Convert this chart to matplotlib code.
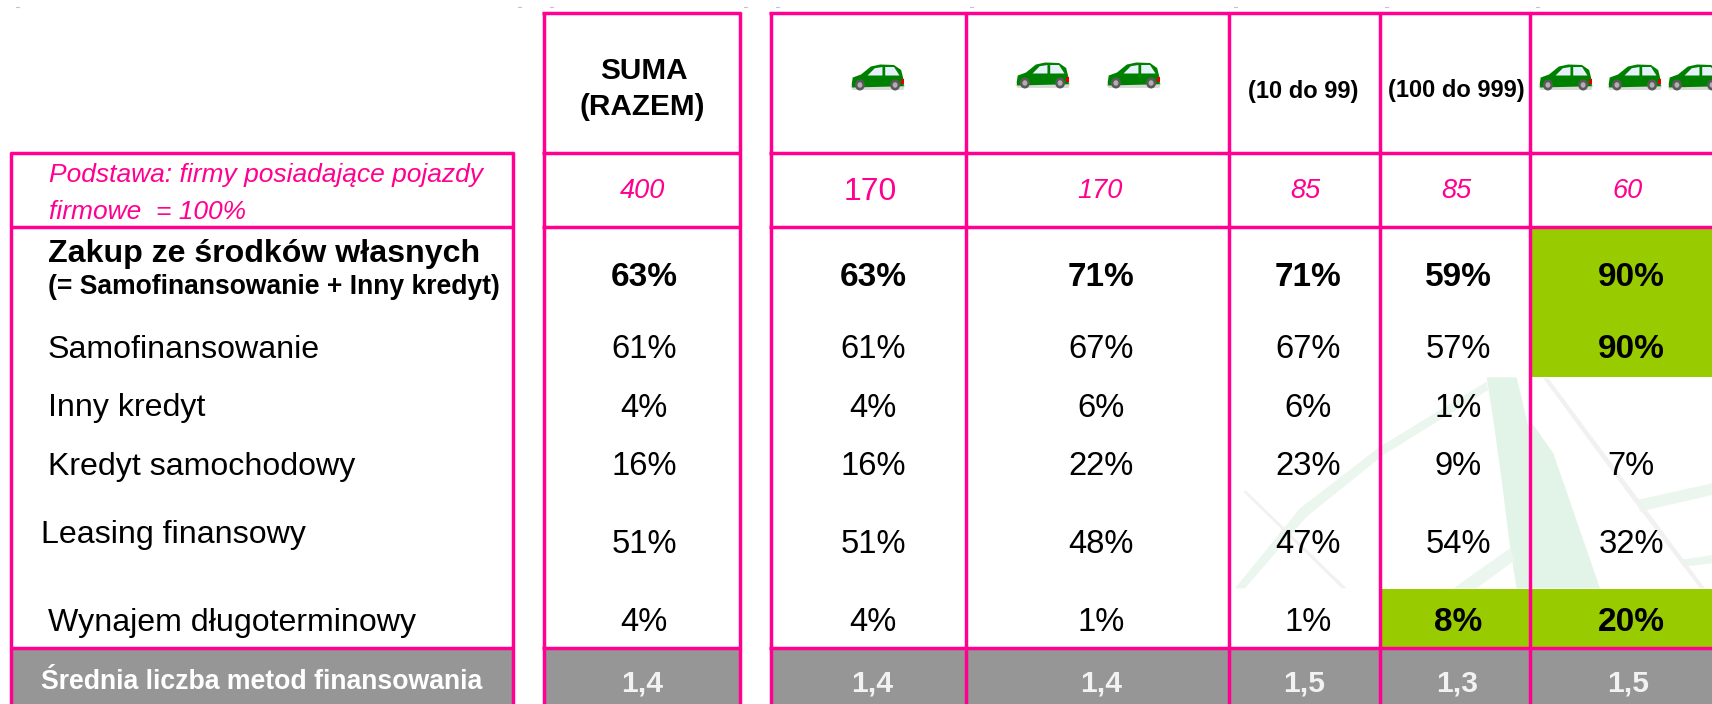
import matplotlib
matplotlib.use("Agg")
import matplotlib.pyplot as plt
from matplotlib.patches import Polygon, Rectangle, Ellipse

plt.rcParams['font.family'] = ['Liberation Sans', 'DejaVu Sans']

# ---------- data ----------
base_label = ["Podstawa: firmy posiadające pojazdy", "firmowe  = 100%"]
row_labels = ["Samofinansowanie", "Inny kredyt", "Kredyt samochodowy",
              "Leasing finansowy", "Wynajem długoterminowy"]
head_bold = "Zakup ze środków własnych"
head_sub = "(= Samofinansowanie + Inny kredyt)"
mean_label = "Średnia liczba metod finansowania"

header_suma = ["SUMA", "(RAZEM)"]
header_ranges = ["(10 do 99)", "(100 do 999)"]
base_n = ["400", "170", "170", "85", "85", "60"]

zakup = ["63%", "63%", "71%", "71%", "59%", "90%"]
samof = ["61%", "61%", "67%", "67%", "57%", "90%"]
inny = ["4%", "4%", "6%", "6%", "1%", ""]
kredyt = ["16%", "16%", "22%", "23%", "9%", "7%"]
leasing = ["51%", "51%", "48%", "47%", "54%", "32%"]
wynajem = ["4%", "4%", "1%", "1%", "8%", "20%"]
srednia = ["1,4", "1,4", "1,4", "1,5", "1,3", "1,5"]
highlighted = {(0, 5), (1, 5), (5, 4), (5, 5)}  # (row, column)

# ---------- layout (pixels) ----------
PINK, GREEN, GREY = "#FF0090", "#99CC00", "#969696"
W, H = 1712, 704
col_x = [644, 873, 1101, 1308, 1458, 1631]
col_edges = [(544, 740), (771, 966), (966, 1229), (1229, 1380), (1380, 1530), (1530, 1730)]
row_base = [286, 358, 417, 475, 553, 631]
y_top, y_head, y_base, y_mean = 12.5, 153, 227, 648

fig = plt.figure(figsize=(W / 100, H / 100), dpi=100)
ax = fig.add_axes([0, 0, 1, 1])
ax.set_xlim(0, W)
ax.set_ylim(H, 0)
ax.axis("off")
LW = 2.5


def poly(points, color="#E2F3E8", z=1):
    pts = [(1200 + x / 3, 340 + y / 3) for x, y in points]
    ax.add_patch(Polygon(pts, closed=True, fc=color, ec="none", zorder=z))


# faint watermark behind the lower right cells
poly([(860, 112), (950, 112), (985, 260), (985, 745), (950, 745), (930, 620), (905, 420), (880, 240)])
poly([(997, 250), (1060, 340), (1200, 745), (997, 745)])
poly([(105, 745), (300, 505), (540, 320), (860, 125), (865, 150), (550, 345), (320, 530), (135, 745)], color="#EBF6EE")
poly([(760, 745), (930, 625), (945, 660), (830, 745)], color="#EBF6EE")
poly([(1310, 480), (1536, 430), (1536, 465), (1320, 515)], color="#EBF6EE")
poly([(1440, 660), (1536, 645), (1536, 670), (1450, 680)], color="#EBF6EE")
poly([(130, 455), (138, 452), (440, 745), (425, 745)], color="#F0F1F0")
poly([(1030, 115), (1045, 115), (1310, 470), (1515, 745), (1500, 745), (1295, 475)], color="#F0F1F0")

# filled cells
for r, c in sorted(highlighted):
    x0, x1 = col_edges[c]
    ys = {0: (y_base, 377), 1: (y_base, 377), 5: (589, y_mean)}[r]
    ax.add_patch(Rectangle((x0, ys[0]), x1 - x0, ys[1] - ys[0], fc=GREEN, ec="none", zorder=2))
ax.add_patch(Rectangle((11, y_mean), W, H - y_mean, fc=GREY, ec="none", zorder=2))
for x0, x1 in [(513, 544), (740, 771)]:
    ax.add_patch(Rectangle((x0 + 2, y_mean - 2), x1 - x0 - 3, H, fc="white", ec="none", zorder=2.5))


# grid lines
def hl(y, x0, x1, lw=LW):
    ax.plot([x0, x1], [y, y], color=PINK, lw=lw, solid_capstyle="butt", zorder=3)


def vl(x, y0, y1, lw=LW):
    ax.plot([x, x], [y0, y1], color=PINK, lw=lw, solid_capstyle="butt", zorder=3)


for y in (y_head, y_base, y_mean):
    hl(y, 10, 514.5)
    hl(y, 542.5, 741.5)
    hl(y, 769.5, W)
hl(y_top, 542.5, 741.5)
hl(y_top, 769.5, W)
for x in (11.5, 513):
    vl(x, y_head - 1, H)
for x in (544, 740, 771, 966, 1229, 1380, 1530):
    vl(x, y_top - 1, H)

# small grey marks along the top
for x in (17.5, 520, 552, 746, 778, 972, 1236, 1387, 1538):
    ax.plot([x - 1.5, x + 1.5], [7, 7], color="#C4C4C4", lw=0.8, zorder=3)


# little green cars
def car(x, y, w=55, h=25):
    P = lambda a, b: (x + a * w, y + b * h)
    ax.add_patch(Polygon([P(.0, .85), P(.05, 1), P(.97, 1), P(1, .82), P(.93, .7), P(.5, .7)],
                         closed=True, fc="#DADADA", ec="none", zorder=4))
    ax.add_patch(Polygon([P(.03, .78), P(.05, .5), P(.2, .38), P(.38, .06), P(.55, -.02), P(.8, 0), P(.93, .2),
                          P(.97, .55), P(.98, .85), P(.04, .9)],
                         closed=True, fc="#008000", ec="none", zorder=4))
    ax.add_patch(Polygon([P(.32, .42), P(.45, .13), P(.59, .08), P(.59, .42)], closed=True, fc="#E6F2FA", ec="none", zorder=5))
    ax.add_patch(Polygon([P(.64, .08), P(.8, .08), P(.9, .42), P(.64, .42)], closed=True, fc="#E6F2FA", ec="none", zorder=5))
    ax.add_patch(Rectangle(P(.93, .55), .05 * w, .2 * h, fc="#E00000", ec="none", zorder=5))
    for a in (.18, .82):
        ax.add_patch(Ellipse(P(a, .8), .2 * w * .9, .44 * h, fc="#5A5A5A", ec="none", zorder=6))
        ax.add_patch(Ellipse(P(a, .8), .1 * w * .9, .22 * h, fc="#B0B0B0", ec="none", zorder=7))


for cx, cy in [(850, 65), (1015, 63), (1106, 63), (1538, 65), (1607, 65), (1667, 65)]:
    car(cx, cy)


def T(x, y, s, size=23.6, ha="center", **kw):
    kw.setdefault("color", "black")
    ax.text(x, y, s, fontsize=size, ha=ha, va="baseline", zorder=8, **kw)


# header texts
T(644, 79, header_suma[0], 21.4, weight="bold")
T(642, 115, header_suma[1], 21.4, weight="bold")
T(1303, 98, header_ranges[0], 17, weight="bold")
T(1456, 97, header_ranges[1], 17, weight="bold")

# base row
T(49, 182, base_label[0], 19, ha="left", color=PINK, style="italic")
T(49, 219, base_label[1], 19, ha="left", color=PINK, style="italic")
base_x = [643, 870, 1100, 1305, 1456, 1628]
for i, (x, s) in enumerate(zip(base_x, base_n)):
    if i == 1:
        T(x, 200, s, 23, color=PINK)
    else:
        T(x, 198, s, 19.5, color=PINK, style="italic")

# row labels
T(48, 262, head_bold, 23.1, ha="left", weight="bold")
T(48, 294, head_sub, 19.1, ha="left", weight="bold")
label_pos = [(48, 358), (48, 416), (48, 475), (41.5, 543), (48, 631)]
for (x, y), s in zip(label_pos, row_labels):
    T(x, y, s, 23.1, ha="left")
T(41.5, 689, mean_label, 19.2, ha="left", color="white", weight="bold")

# values
rows = [zakup, samof, inny, kredyt, leasing, wynajem]
for r, vals in enumerate(rows):
    for c, s in enumerate(vals):
        bold = r == 0 or (r, c) in highlighted
        T(col_x[c], row_base[r], s, size=24 if bold else 23.6, weight="bold" if bold else "normal")
for x, s in zip([642, 872, 1101, 1304, 1457, 1628], srednia):
    T(x, 691, s, size=21.6, color="#F2F2F2", weight="bold")

fig.savefig("out.png", dpi=100, facecolor="white")
